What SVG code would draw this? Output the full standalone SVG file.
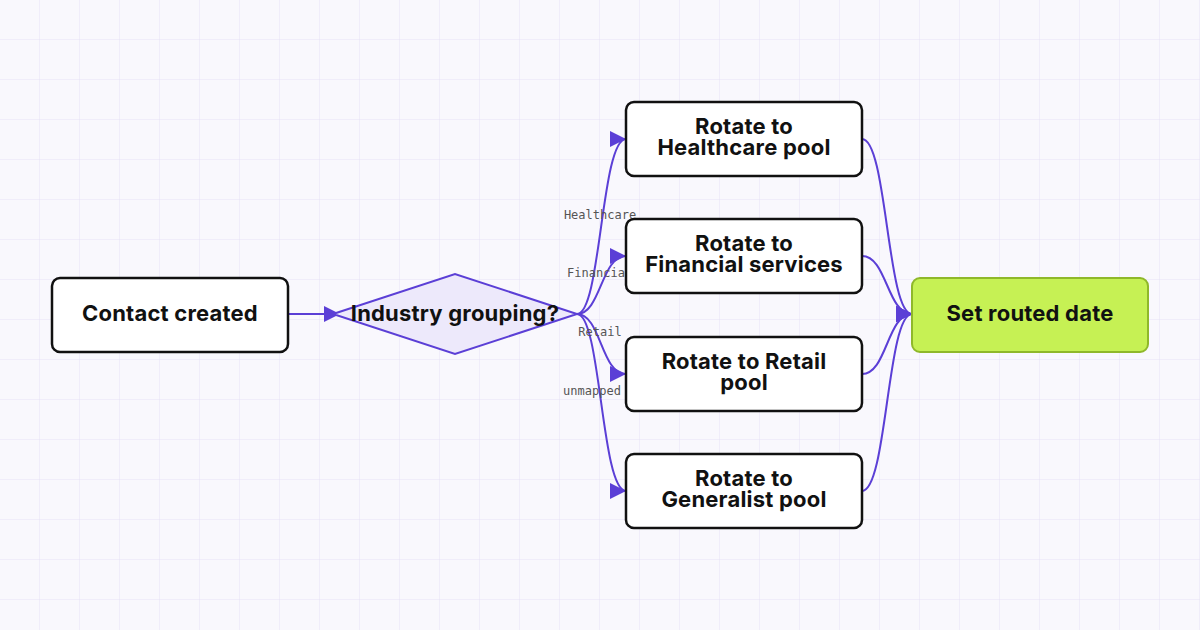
<svg xmlns="http://www.w3.org/2000/svg" width="1200" height="630" viewBox="0 0 1200 630">
<defs>
<pattern id="grid" width="40" height="40" patternUnits="userSpaceOnUse"><path d="M40 0V40M0 40H40" fill="none" stroke="#e6e2f6" stroke-width="1"/></pattern>
<marker id="ah2" viewBox="0 0 10 10" refX="10" refY="5" markerWidth="16" markerHeight="16" markerUnits="userSpaceOnUse" orient="auto"><path d="M0 0L10 5L0 10z" fill="#5b3fd6"/></marker>
</defs>
<style>
.box{fill:#fff;stroke:#111;stroke-width:2.5}
.t{font-family:Inter,"Liberation Sans",sans-serif;font-weight:700;font-size:22px;fill:#111;text-anchor:middle;letter-spacing:0.2px}
.e{fill:none;stroke:#5b3fd6;stroke-width:2;marker-end:url(#ah2)}
.lbl{font-family:"DejaVu Sans Mono","Liberation Mono",monospace;font-size:12px;fill:#555;text-anchor:middle}
</style>
<rect width="1200" height="630" fill="#f9f8fd"/>
<rect width="1200" height="630" fill="url(#grid)"/>
<g id="connectors">
<path class="e" d="M288 314H340"/>
<path class="e" d="M577 314C601 314 601 139 626 139"/>
<path class="e" d="M577 314C601 314 601 256 626 256"/>
<path class="e" d="M577 314C601 314 601 374 626 374"/>
<path class="e" d="M577 314C601 314 601 491 626 491"/>
<path class="e" d="M862 139C887 139 887 314 912 314"/>
<path class="e" d="M862 256C887 256 887 314 912 314"/>
<path class="e" d="M862 374C887 374 887 314 912 314"/>
<path class="e" d="M862 491C887 491 887 314 912 314"/>
<text class="lbl" x="600" y="219">Healthcare</text>
<text class="lbl" x="596" y="277">Financia</text>
<text class="lbl" x="600" y="336">Retail</text>
<text class="lbl" x="592" y="395">unmapped</text>
</g>
<g id="contact"><rect class="box" x="52" y="278" width="236" height="74" rx="8"/><text class="t" x="170" y="321">Contact created</text></g>
<g id="decision"><path d="M333 314L455 274L577 314L455 354Z" fill="#ede9fb" stroke="#5b3fd6" stroke-width="2"/><text class="t" x="455" y="321">Industry grouping?</text></g>
<g id="healthcare"><rect class="box" x="626" y="102" width="236" height="74" rx="8"/><text class="t" x="744" y="134">Rotate to</text><text class="t" x="744" y="155">Healthcare pool</text></g>
<g id="financial"><rect class="box" x="626" y="219" width="236" height="74" rx="8"/><text class="t" x="744" y="251">Rotate to</text><text class="t" x="744" y="272">Financial services</text></g>
<g id="retail"><rect class="box" x="626" y="337" width="236" height="74" rx="8"/><text class="t" x="744" y="369">Rotate to Retail</text><text class="t" x="744" y="390">pool</text></g>
<g id="generalist"><rect class="box" x="626" y="454" width="236" height="74" rx="8"/><text class="t" x="744" y="486">Rotate to</text><text class="t" x="744" y="507">Generalist pool</text></g>
<g id="routed"><rect x="912" y="278" width="236" height="74" rx="8" fill="#c6f154" stroke="#8fb82a" stroke-width="2"/><text class="t" x="1030" y="321">Set routed date</text></g>
</svg>
